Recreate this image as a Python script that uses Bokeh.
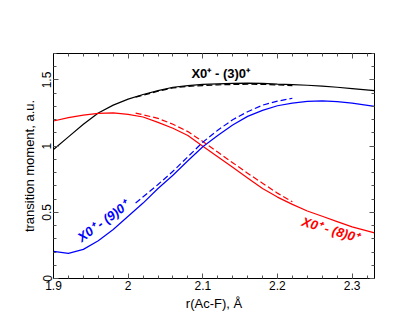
from bokeh.plotting import figure
from bokeh.models import LinearAxis, SingleIntervalTicker, CustomJSTickFormatter, Range1d
from bokeh.core.properties import value
from bokeh.embed import file_html
from bokeh.resources import INLINE

x_solid = [1.90, 1.92, 1.94, 1.96, 1.98, 2.00, 2.02, 2.04, 2.06, 2.08, 2.10, 2.12,
           2.14, 2.16, 2.18, 2.20, 2.22, 2.24, 2.26, 2.28, 2.30, 2.33]
black_solid = [0.975, 1.07, 1.165, 1.25, 1.31, 1.355, 1.39, 1.42, 1.445, 1.458, 1.466, 1.47,
               1.474, 1.476, 1.475, 1.469, 1.465, 1.46, 1.453, 1.445, 1.435, 1.42]
red_solid = [1.19, 1.215, 1.235, 1.248, 1.252, 1.24, 1.22, 1.18, 1.135, 1.08, 1.0, 0.92,
             0.84, 0.76, 0.68, 0.615, 0.56, 0.51, 0.47, 0.43, 0.39, 0.345]
blue_solid = [0.205, 0.19, 0.22, 0.285, 0.37, 0.47, 0.57, 0.68, 0.78, 0.89, 0.995, 1.08,
              1.16, 1.225, 1.27, 1.305, 1.325, 1.338, 1.342, 1.337, 1.325, 1.30]

x_dashed = [2.01, 2.04, 2.06, 2.08, 2.10, 2.12, 2.14, 2.16, 2.18, 2.20, 2.22]
black_dashed = [1.37, 1.415, 1.44, 1.452, 1.458, 1.463, 1.466, 1.468, 1.467, 1.463, 1.458]
red_dashed = [1.25, 1.21, 1.165, 1.11, 1.035, 0.955, 0.875, 0.795, 0.72, 0.645, 0.58]
blue_dashed = [0.57, 0.71, 0.81, 0.92, 1.03, 1.12, 1.20, 1.26, 1.31, 1.34, 1.362]

labels = ["X0\u207a - (3)0\u207a", "X0\u207a - (9)0\u207a", "X0\u207a - (8)0\u207a"]
label_x = [2.124, 1.966, 2.271]
label_y = [1.55, 0.43, 0.37]

FONT = "Liberation Sans"

p = figure(output_backend="svg", toolbar_location=None,
           frame_width=321, frame_height=225,
           x_range=Range1d(1.9, 2.33), y_range=Range1d(0, 1.7),
           min_border_left=53, min_border_top=53, min_border_right=33, min_border_bottom=35,
           x_axis_label="r(Ac-F), \u00c5", y_axis_label="transition moment, a.u.")
p.grid.visible = False
p.outline_line_color = "black"
p.outline_line_width = 1
p.background_fill_color = "white"
p.border_fill_color = "white"

bx = p.below[0]
ly = p.left[0]

fmt = CustomJSTickFormatter(code="return String(+tick.toFixed(2));")
blank = CustomJSTickFormatter(code="return '';")
bx.ticker = SingleIntervalTicker(interval=0.1, num_minor_ticks=5)
ly.ticker = SingleIntervalTicker(interval=0.5, num_minor_ticks=5)
bx.formatter = fmt
ly.formatter = fmt
ly.major_label_orientation = "vertical"

top = LinearAxis(ticker=SingleIntervalTicker(interval=0.1, num_minor_ticks=5), formatter=blank)
right = LinearAxis(ticker=SingleIntervalTicker(interval=0.5, num_minor_ticks=5), formatter=blank)
p.add_layout(top, "above")
p.add_layout(right, "right")

for ax in [bx, ly, top, right]:
    ax.major_tick_in = 5
    ax.major_tick_out = 0
    ax.minor_tick_in = 3
    ax.minor_tick_out = 0
    ax.major_tick_line_color = "#555555"
    ax.minor_tick_line_color = "#555555"
    ax.axis_line_color = "black"
    ax.major_label_text_font = FONT
    ax.major_label_text_font_size = "12px"
    ax.major_label_text_color = "black"
    ax.axis_label_text_font = FONT
    ax.axis_label_text_font_size = "13px"
    ax.axis_label_text_font_style = "normal"
    ax.axis_label_text_color = "black"
    ax.major_label_standoff = 2
    ax.axis_label_standoff = 3

p.line(x_solid, black_solid, color="black", line_width=1.2)
p.line(x_solid, red_solid, color="red", line_width=1.2)
p.line(x_solid, blue_solid, color="blue", line_width=1.2)
p.line(x_dashed, black_dashed, color="black", line_width=1.2, line_dash="6 3")
p.line(x_dashed, red_dashed, color="red", line_width=1.2, line_dash="6 3")
p.line(x_dashed, blue_dashed, color="blue", line_width=1.2, line_dash="6 3")

p.text(x=[label_x[0]], y=[label_y[0]], text=[labels[0]], text_color="black",
       text_font=value(FONT), text_font_size="13px", text_font_style="bold",
       text_align="center", text_baseline="middle")
p.text(x=[label_x[1]], y=[label_y[1]], text=[labels[1]], text_color="blue",
       text_font=value(FONT), text_font_size="13px", text_font_style="bold italic",
       text_align="center", text_baseline="middle", angle=0.63)
p.text(x=[label_x[2]], y=[label_y[2]], text=[labels[2]], text_color="red",
       text_font=value(FONT), text_font_size="13px", text_font_style="bold italic",
       text_align="center", text_baseline="middle", angle=-0.29)

open("out.html", "w").write(file_html(p, INLINE))
